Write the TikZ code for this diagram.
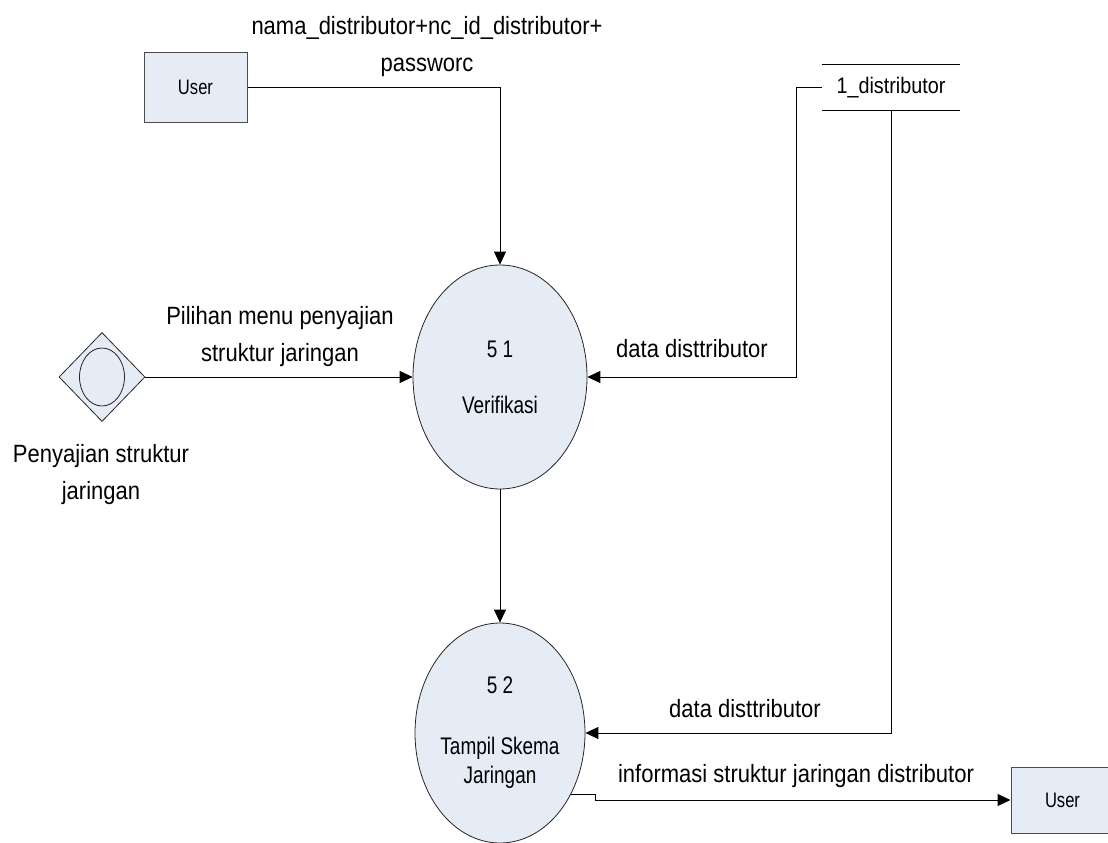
\documentclass[tikz,border=0pt]{standalone}
\usepackage{fontspec}
\setmainfont{Liberation Sans}[FakeStretch=0.88]
\newfontfamily\narrowfont{Liberation Sans}[FakeStretch=0.79]
\usetikzlibrary{shapes.geometric,arrows.meta}
\definecolor{procfill}{RGB}{230,236,246}
\begin{document}
\begin{tikzpicture}[x=1pt,y=-1pt,
  proc/.style={ellipse,draw=black!85,fill=procfill,line width=0.8pt,inner sep=0pt,align=center,font=\narrowfont\fontsize{24}{29}\selectfont},
  ent/.style={rectangle,draw=black!70,fill=procfill,line width=1pt,inner sep=0pt,font=\narrowfont\fontsize{21}{25}\selectfont},
  lbl/.style={align=center,inner sep=0pt,font=\fontsize{25}{37}\selectfont},
  flow/.style={draw,line width=1pt,-{Triangle[length=13pt,width=12pt]}}]
\useasboundingbox (0,0) rectangle (1108,843);
\clip (0,0) rectangle (1108,843);
% entities
\node[ent,minimum width=103pt,minimum height=69pt] (u1) at (195.5,87.5) {User};
\node[ent,minimum width=103pt,minimum height=66pt] (u2) at (1062.5,800) {User};
% processes
\node[proc,minimum width=174pt,minimum height=224pt] (v1) at (500,377) {5 1\\[27pt]Verifikasi};
\node[proc,minimum width=170pt,minimum height=220pt] (t2) at (500,733) {5 2\\[32pt]Tampil Skema\\Jaringan};
% menu (diamond with circle)
\node[diamond,draw=black!85,fill=procfill,line width=0.8pt,inner sep=0pt,minimum width=86pt,minimum height=89pt] (dm) at (102,377) {};
\node[ellipse,draw=black!85,fill=procfill,line width=0.8pt,inner sep=0pt,minimum width=45pt,minimum height=58pt] (dmi) at (102,377) {};
% data store
\node[inner sep=0pt,minimum width=138pt,minimum height=45pt,font=\fontsize{22.5}{27}\selectfont] (ds) at (891,87.5) {1\_distributor};
\draw[line width=1pt] (ds.north west) -- (ds.north east);
\draw[line width=1pt] (ds.south west) -- (ds.south east);
% labels
\node[lbl] (l1) at (427,47) {nama\_distributor+nc\_id\_distributor+\\passworc};
\node[lbl] (l2) at (280,337) {Pilihan menu penyajian\\struktur jaringan};
\node[lbl] (l3) at (101,475) {Penyajian struktur\\jaringan};
\node[lbl] (l4) at (692,349) {data disttributor};
\node[lbl] (l5) at (745,709) {data disttributor};
\node[lbl] (l6) at (796,776.5) {informasi struktur jaringan distributor};
% flows
\draw[flow] (u1.east) -| (v1.north);
\draw[flow] (dm.east) -- (v1.west);
\draw[flow] (ds.west) -- ++(-25,0) |- (v1.east);
\draw[flow] (ds.south) |- (t2.east);
\draw[flow] (v1.south) -- (t2.north);
\draw[flow] (t2.-41) -- ++(25,0) |- (u2.west);
\end{tikzpicture}
\end{document}
